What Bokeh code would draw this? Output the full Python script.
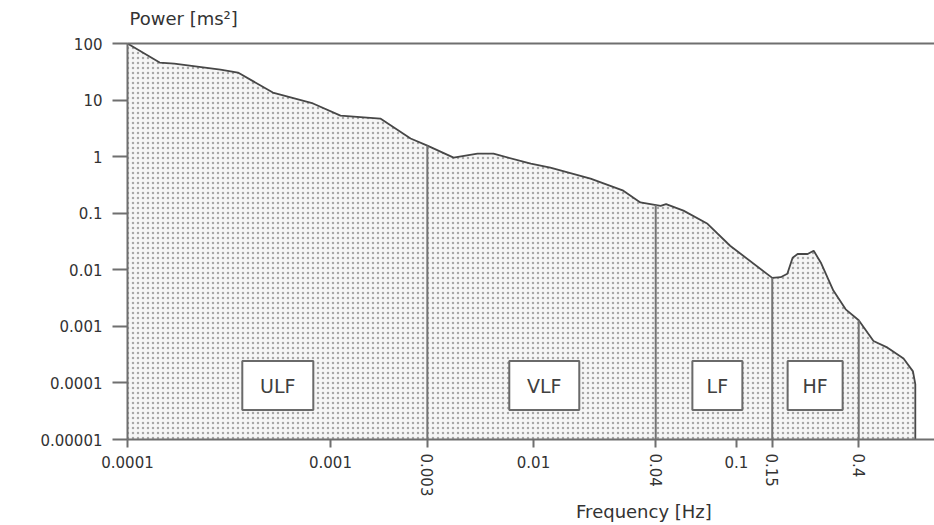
import math
from bokeh.plotting import figure
from bokeh.models import (FixedTicker, CustomJSTickFormatter, ColumnDataSource,
                          LogAxis, Label)
from bokeh.core.properties import value
from bokeh.embed import file_html
from bokeh.resources import INLINE

# ---- data ----
freq = [0.0001, 0.000144, 0.00017, 0.000287, 0.00035, 0.00052, 0.00082,
        0.00112, 0.00176, 0.00248, 0.003, 0.00404, 0.0053, 0.00635, 0.0097,
        0.0121, 0.0191, 0.0277, 0.0336, 0.0423, 0.045, 0.0548, 0.072, 0.093,
        0.15, 0.165, 0.178, 0.189, 0.2, 0.224, 0.24, 0.26, 0.30, 0.345, 0.4,
        0.473, 0.555, 0.665, 0.74, 0.76, 0.76]
power = [100, 46, 44, 34.6, 30.7, 13.6, 8.7,
         5.3, 4.7, 2.09, 1.57, 0.96, 1.13, 1.13, 0.75,
         0.64, 0.41, 0.25, 0.155, 0.135, 0.145, 0.111, 0.065, 0.0266,
         0.0072, 0.0074, 0.0085, 0.0163, 0.019, 0.019, 0.0217, 0.0135, 0.0043, 0.002, 0.00128,
         0.00055, 0.00042, 0.00027, 0.00016, 0.000095, 0.00001]

boundary_freqs = [0.003, 0.04, 0.15, 0.4]
boundary_power = [1.57, 0.14, 0.0072, 0.00128]
boundary_labels = ["0.003", "0.04", "0.15", "0.4"]

band_names = ["ULF", "VLF", "LF", "HF"]
band_centers = [5.5e-4, 0.0113, 0.0805, 0.244]
band_label_level = [9e-5, 9e-5, 9e-5, 9e-5]

x_decade_ticks = [0.0001, 0.001, 0.01, 0.1]
x_decade_labels = ["0.0001", "0.001", "0.01", "0.1"]
y_ticks = [0.00001, 0.0001, 0.001, 0.01, 0.1, 1, 10, 100]
y_labels = ["0.00001", "0.0001", "0.001", "0.01", "0.1", "1", "10", "100"]

FONT = "DejaVu Sans"
TXT = "#333333"
AX = "#6f6f6f"

# ---- layout geometry in pixels (canvas 934 x 525) ----
W, H = 934, 525
AX_LEFT, AX_RIGHT = 127, 934       # plot area, x direction
AX_TOP, AX_BOTTOM = 43, 439        # plot area, y direction
X_MIN, Y_MIN, Y_MAX = 1e-4, 1e-5, 100
y_dec = (AX_BOTTOM - AX_TOP) / math.log10(Y_MAX / Y_MIN)
x_dec = 203.0
x_start = 10 ** (math.log10(X_MIN) - AX_LEFT / x_dec)
x_end = 10 ** (math.log10(X_MIN) + (W - AX_LEFT) / x_dec)
y_start = 10 ** (math.log10(Y_MIN) - (H - AX_BOTTOM) / y_dec)
y_end = 10 ** (math.log10(Y_MAX) + AX_TOP / y_dec)
X_MAX = 10 ** (math.log10(X_MIN) + (AX_RIGHT - AX_LEFT) / x_dec)

p = figure(width=W, height=H, x_axis_type="log", y_axis_type="log",
           x_range=(x_start, x_end), y_range=(y_start, y_end),
           x_axis_location=None, y_axis_location=None,
           output_backend="svg", toolbar_location=None,
           min_border_left=0, min_border_right=0,
           min_border_top=0, min_border_bottom=0)
p.outline_line_color = None
p.xgrid.visible = False
p.ygrid.visible = False
p.background_fill_color = "white"
p.border_fill_color = "white"

src = ColumnDataSource(dict(x=freq, y=power, base=[Y_MIN] * len(freq)))
p.varea(x="x", y1="base", y2="y", source=src, fill_color="#f6f6f6",
        hatch_pattern="dot", hatch_color="#a8a8a8", hatch_scale=5,
        hatch_weight=1)
p.line(x="x", y="y", source=src, line_color="#474747", line_width=1.8)

bsrc = ColumnDataSource(dict(x=boundary_freqs, y=boundary_power,
                             base=[Y_MIN] * len(boundary_freqs)))
p.segment(x0="x", y0="base", x1="x", y1="y", source=bsrc,
          line_color="#737373", line_width=2)

lsrc = ColumnDataSource(dict(x=band_centers, y=band_label_level,
                             t=band_names, w=[71, 70, 50, 55]))
p.rect(x="x", y="y", width="w", height=49, width_units="screen",
       height_units="screen", source=lsrc, fill_color="white",
       line_color="#6a6a6a", line_width=2)
p.text(x="x", y="y", text="t", source=lsrc, text_align="center",
       text_baseline="middle", text_font=value(FONT),
       text_font_size="19px", text_color="#404040")

fmt_js = """
for (let i = 0; i < vals.length; i++) {
  if (Math.abs(Math.log10(tick) - Math.log10(vals[i])) < 1e-6) return labs[i];
}
return "";
"""

# top border line (an axis with no ticks or labels)
top = LogAxis(fixed_location=Y_MAX, bounds=(X_MIN, X_MAX),
              ticker=FixedTicker(ticks=[], minor_ticks=[]),
              axis_line_color=AX, axis_line_width=2,
              major_tick_line_color=None, minor_tick_line_color=None,
              major_label_text_font_size="0px")
p.add_layout(top, "above")

# main x axis
xa = LogAxis(fixed_location=Y_MIN, bounds=(X_MIN, X_MAX),
             ticker=FixedTicker(ticks=x_decade_ticks + boundary_freqs,
                                minor_ticks=[]),
             formatter=CustomJSTickFormatter(args=dict(vals=x_decade_ticks,
                                                       labs=x_decade_labels),
                                             code=fmt_js),
             axis_line_color=AX, axis_line_width=2,
             major_tick_line_color=AX, major_tick_line_width=2,
             major_tick_out=8, major_tick_in=0, minor_tick_line_color=None,
             major_label_standoff=8, major_label_text_font=FONT,
             major_label_text_font_size="15px", major_label_text_color=TXT)
p.add_layout(xa, "below")

# rotated band-boundary labels
xb = LogAxis(fixed_location=Y_MIN,
             ticker=FixedTicker(ticks=boundary_freqs, minor_ticks=[]),
             formatter=CustomJSTickFormatter(args=dict(vals=boundary_freqs,
                                                       labs=boundary_labels),
                                             code=fmt_js),
             axis_line_color=None, major_tick_line_color=None,
             minor_tick_line_color=None, major_tick_in=0, major_tick_out=0,
             major_label_standoff=14, major_label_orientation="vertical",
             major_label_text_font=FONT, major_label_text_font_size="15px",
             major_label_text_color=TXT)
p.add_layout(xb, "below")

# y axis
ya = LogAxis(fixed_location=X_MIN, bounds=(Y_MIN, Y_MAX),
             ticker=FixedTicker(ticks=y_ticks, minor_ticks=[]),
             formatter=CustomJSTickFormatter(args=dict(vals=y_ticks,
                                                       labs=y_labels),
                                             code=fmt_js),
             axis_line_color=AX, axis_line_width=2,
             major_tick_line_color=AX, major_tick_line_width=2,
             major_tick_out=15, major_tick_in=0, minor_tick_line_color=None,
             major_label_standoff=10, major_label_text_font=FONT,
             major_label_text_font_size="15px", major_label_text_color=TXT)
p.add_layout(ya, "left")

p.add_layout(Label(x=X_MIN, y=Y_MAX, x_offset=2, y_offset=25,
                   text="Power [ms²]", text_align="left",
                   text_baseline="middle", text_font=FONT,
                   text_font_size="18px", text_color=TXT))
p.add_layout(Label(x=0.035, y=Y_MIN, y_offset=-72, text="Frequency [Hz]",
                   text_align="center", text_baseline="middle",
                   text_font=FONT, text_font_size="18px", text_color=TXT))

open("out.html", "w").write(file_html(p, INLINE))
